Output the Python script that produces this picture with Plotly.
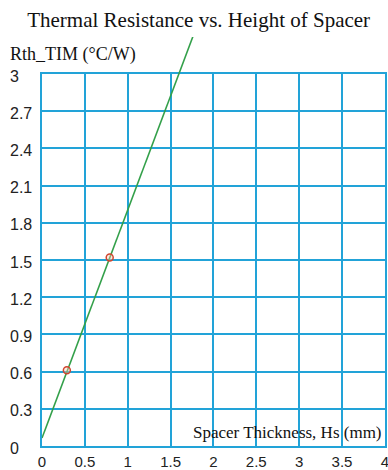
import plotly.graph_objects as go

# ---- data ----
meas_x = [0.29, 0.79]          # spacer thickness, mm
meas_y = [0.61, 1.52]          # Rth_TIM, C/W
fit_x = [0.0, 1.76]
fit_y = [0.065, 3.30]

x_tick_vals = [0, 0.5, 1, 1.5, 2, 2.5, 3, 3.5, 4]
x_tick_text = ["0", "0.5", "1", "1.5", "2", "2.5", "3", "3.5", "4"]
y_tick_vals = [0, 0.3, 0.6, 0.9, 1.2, 1.5, 1.8, 2.1, 2.4, 2.7, 3]
y_tick_text = ["0", "0.3", "0.6", "0.9", "1.2", "1.5", "1.8", "2.1", "2.4", "2.7", "3"]

title_text = "Thermal Resistance vs. Height of Spacer"
y_title = "Rth_TIM (°C/W)"
x_title = "Spacer Thickness, Hs (mm)"

# ---- layout geometry (page body margin removed by post_script) ----
W, H = 388, 470
ML, MR, MT, MB = 42, 3, 37, 24
plot_h = H - MT - MB
axis_bottom_px = 446
grid_top_px = 74
main_frac = (axis_bottom_px - grid_top_px) / plot_h
y_max = 3.0
y2_max = y_max / main_frac
x_max = 4.002

GRID = "#22A3D8"
GREEN = "#33A04A"
RED = "#D0452F"
TICKFONT = dict(family="Liberation Sans, Arial, sans-serif", size=16, color="#222222")
XTICKFONT = dict(family="Liberation Sans, Arial, sans-serif", size=15, color="#222222")
SERIF = "Liberation Serif"

fig = go.Figure()

fig.add_trace(go.Scatter(
    x=fit_x, y=fit_y, mode="lines", xaxis="x2", yaxis="y2",
    line=dict(color=GREEN, width=1.6), showlegend=False, hoverinfo="skip"))
fig.add_trace(go.Scatter(
    x=meas_x, y=meas_y, mode="markers", xaxis="x2", yaxis="y2",
    marker=dict(size=7, color="rgba(255,200,180,0.4)", line=dict(color=RED, width=1.5)),
    showlegend=False))

annotations = []
for v, t in zip(y_tick_vals, y_tick_text):
    annotations.append(dict(
        x=0, xref="paper", xanchor="left", xshift=-(ML - 8),
        y=v, yref="y", yanchor="middle", yshift=-2,
        text=t, showarrow=False, font=TICKFONT))
annotations.append(dict(
    x=0, xref="paper", xanchor="left", xshift=-(ML - 8),
    y=(axis_bottom_px - 55) / plot_h, yref="paper", yanchor="middle",
    text=y_title, showarrow=False,
    font=dict(family=SERIF, size=18, color="#111111")))
annotations.append(dict(
    x=1, xref="paper", xanchor="right", xshift=-1,
    y=(axis_bottom_px - 432) / plot_h, yref="paper", yanchor="middle",
    text=x_title, showarrow=False,
    font=dict(family=SERIF, size=17, color="#111111")))

fig.update_layout(
    width=W, height=H,
    margin=dict(l=ML, r=MR, t=MT, b=MB, autoexpand=False),
    paper_bgcolor="white", plot_bgcolor="rgba(0,0,0,0)",
    title=dict(text=title_text, x=0.512, xref="container", xanchor="center",
               y=1 - 20 / H, yref="container", yanchor="middle",
               font=dict(family=SERIF, size=21, color="#111111")),
    xaxis=dict(domain=[0, 1], range=[0, x_max], anchor="y",
               tickmode="array", tickvals=x_tick_vals, ticktext=x_tick_text,
               tickfont=XTICKFONT, ticks="", ticklabelstandoff=1,
               ticklabeloverflow="allow",
               showgrid=True, gridcolor=GRID, gridwidth=2, zeroline=False,
               showline=True, linecolor=GRID, linewidth=2, mirror=True,
               fixedrange=True),
    yaxis=dict(domain=[0, main_frac], range=[0, y_max], anchor="x",
               tickmode="array", tickvals=y_tick_vals, showticklabels=False,
               ticks="", showgrid=True, gridcolor=GRID, gridwidth=2, zeroline=False,
               showline=True, linecolor=GRID, linewidth=2, mirror=True,
               fixedrange=True),
    xaxis2=dict(domain=[0, 1], range=[0, x_max], anchor="y2", visible=False,
                fixedrange=True),
    yaxis2=dict(domain=[0, 1], range=[0, y2_max], anchor="x2", visible=False,
                fixedrange=True),
    annotations=annotations,
)

fig.write_html(
    "out.html",
    config={"displayModeBar": False},
    post_script="document.body.style.margin='0';document.body.style.overflow='hidden';",
)
